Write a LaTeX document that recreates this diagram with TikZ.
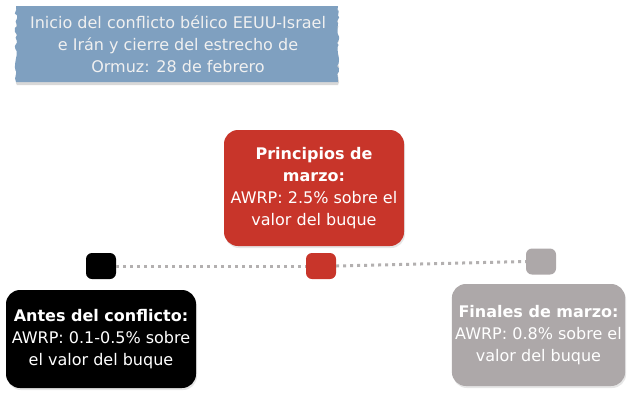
\documentclass[tikz,border=0pt]{standalone}
\usepackage{fontspec}
\setmainfont{DejaVu Sans}
\usetikzlibrary{positioning,shadows,decorations.pathmorphing}

\definecolor{awrpred}{HTML}{C8352A}
\definecolor{awrpgray}{HTML}{ADA8A9}
\definecolor{bannerblue}{HTML}{7FA0C0}
\definecolor{dotgray}{HTML}{B3B0B0}

\begin{document}
\begin{tikzpicture}[x=1pt,y=-1pt,
  phasebox/.style={rectangle,rounded corners=14pt,align=center,font=\fontsize{16}{22}\selectfont,text=white,
    drop shadow={shadow xshift=1pt,shadow yshift=-2pt,opacity=0.2}},
  marker/.style={rectangle,rounded corners=6pt,minimum width=30pt,minimum height=26pt,inner sep=0pt},
  timeline/.style={dotgray,line width=3pt,dash pattern=on 3pt off 4pt}]
  \useasboundingbox (0,0) rectangle (632,394);

  % torn label
  \fill[black!30,opacity=0.5] (17,9) -- (338,9)
    decorate[decoration={random steps,segment length=3pt,amplitude=1.2pt}] {-- (338,85)} -- (17,85)
    decorate[decoration={random steps,segment length=3pt,amplitude=1.2pt}] {-- (17,9)};
  \fill[bannerblue] (16,6) -- (338,6)
    decorate[decoration={random steps,segment length=3pt,amplitude=1.2pt}] {-- (338,82)} -- (16,82)
    decorate[decoration={random steps,segment length=3pt,amplitude=1.2pt}] {-- (16,6)};
  \node[align=center,text=white!94!black,font=\fontsize{16}{22}\selectfont] (start) at (178,44)
    {Inicio del conflicto bélico EEUU-Israel\\e Irán y cierre del estrecho de\\Ormuz: 28 de febrero};

  \node[phasebox,fill=awrpred,minimum width=180pt,minimum height=116pt] (march) at (314,188)
    {\textbf{Principios de}\\\textbf{marzo:}\\AWRP: 2.5\% sobre el\\valor del buque};
  \node[phasebox,fill=black,minimum width=190pt,minimum height=98pt] (before) at (101,339)
    {\textbf{Antes del conflicto:}\\AWRP: 0.1-0.5\% sobre\\el valor del buque};
  \node[phasebox,fill=awrpgray,minimum width=173pt,minimum height=102pt] (late) at (538.5,335)
    {\textbf{Finales de marzo:}\\AWRP: 0.8\% sobre el\\valor del buque};

  \node[marker,fill=black] (mkbefore) at (101,266) {};
  \node[marker,fill=awrpred] (mkmarch) at (321,266) {};
  \node[marker,fill=awrpgray] (mklate) at (541,261.5) {};

  \draw[timeline] (mkbefore.east) -- (mkmarch.west);
  \draw[timeline] (mkmarch.east) -- (mklate.west);
\end{tikzpicture}
\end{document}
